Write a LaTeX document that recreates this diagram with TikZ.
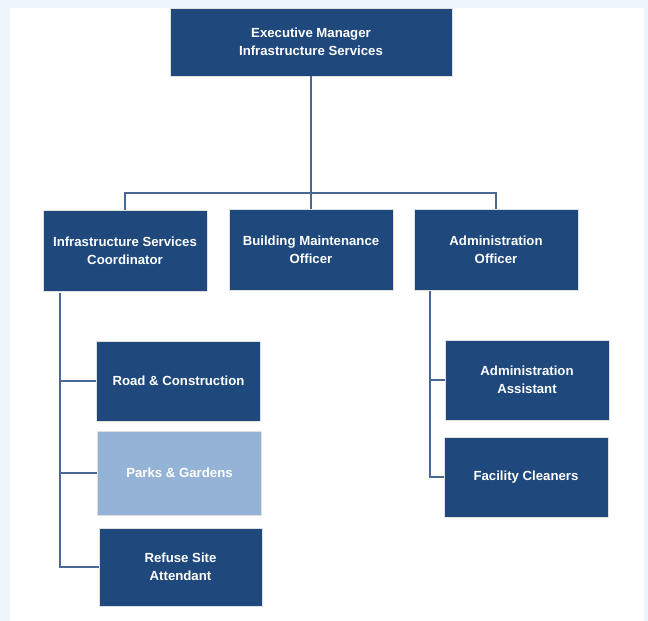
\documentclass[tikz,border=0pt]{standalone}
\usepackage{fontspec}
\setmainfont{Liberation Sans}
\definecolor{boxblue}{HTML}{1F497D}
\definecolor{lightbox}{HTML}{95B3D7}
\definecolor{linkblue}{HTML}{4A6894}
\definecolor{pageblue}{HTML}{EEF6FD}
\begin{document}
\begin{tikzpicture}[x=1pt,y=-1pt]
\tikzstyle{every node}+=[inner sep=0pt]
\tikzstyle{post}=[draw=black!12, line width=0.6pt, fill=boxblue, text=white, font=\fontsize{13.2}{18}\selectfont\bfseries, align=center, minimum width=164pt, minimum height=81pt]
\tikzstyle{link}=[draw=linkblue, line width=1.1pt]
\useasboundingbox (0,0) rectangle (648,621);
\fill [pageblue] (0,0) rectangle (648,621);
\fill [white] (10,8) rectangle (644,621);
\node [post, minimum width=282pt, minimum height=68pt] (exec) at (311,42) {Executive Manager\\Infrastructure Services};
\node [post] (isc) at (125,251) {Infrastructure Services\\Coordinator};
\node [post] (bmo) at (311,250) {Building Maintenance\\Officer};
\node [post] (ao) at (496,250) {Administration\\Officer};
\node [post, minimum height=80pt] (road) at (178.5,381) {Road \& Construction};
\node [post, fill=lightbox, minimum height=84pt] (parks) at (179.5,473) {Parks \& Gardens};
\node [post, minimum width=163pt, minimum height=78pt] (refuse) at (180.5,567) {Refuse Site\\Attendant};
\node [post, minimum height=80pt] (asst) at (527,380) {Administration\\Assistant};
\node [post, minimum height=80pt] (clean) at (526,477) {Facility Cleaners};
\coordinate (bus) at (311,193);
\coordinate (iscleg) at (60,293);
\coordinate (aoleg) at (430,291);
\draw [link] (exec) -- (bus);
\draw [link] (bus) -| (isc.north);
\draw [link] (bus) -- (bmo.north);
\draw [link] (bus) -| (ao.north);
\draw [link] (iscleg) |- (road.west);
\draw [link] (iscleg) |- (parks.west);
\draw [link] (iscleg) |- (refuse.west);
\draw [link] (aoleg) |- (asst.west);
\draw [link] (aoleg) |- (clean.west);
\end{tikzpicture}
\end{document}
